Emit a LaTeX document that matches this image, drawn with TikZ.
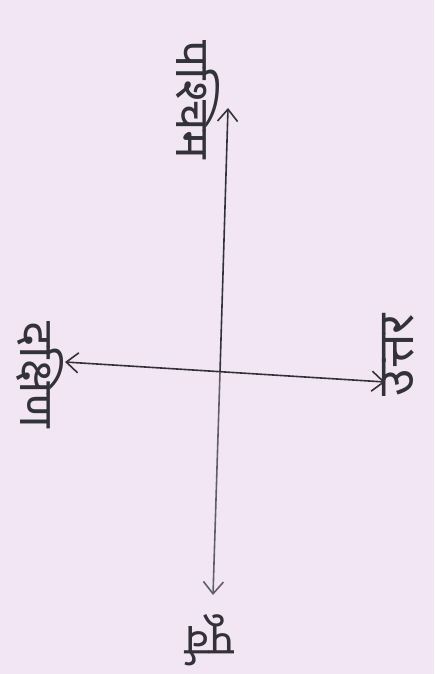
\documentclass[tikz,border=0pt]{standalone}
\usepackage{fontspec}
\newfontfamily\devfont[Script=Devanagari]{Noto Sans}
\usetikzlibrary{arrows.meta}
\definecolor{paper}{RGB}{243,230,244}
\definecolor{ink}{RGB}{50,50,58}
\definecolor{inklight}{RGB}{95,95,105}
\tikzset{
  lbl/.style={font=\devfont\fontsize{48}{50}\selectfont, text=ink, inner sep=0pt},
  axis/.style={line width=1.6pt, draw=ink},
  tipboth/.style={{Straight Barb[length=12pt,width=20pt,line width=1.6pt]}-{Straight Barb[length=12pt,width=20pt,line width=1.6pt]}},
  tipstart/.style={{Straight Barb[length=12pt,width=20pt,line width=1.6pt]}-},
  tipend/.style={-{Straight Barb[length=12pt,width=20pt,line width=1.6pt]}}
}
\begin{document}
\begin{tikzpicture}[x=1pt,y=-1pt]
\fill[paper] (0,0) rectangle (434,674);
\useasboundingbox (0,0) rectangle (434,674);
% end points of the axes
\coordinate (N) at (228,108);
\coordinate (S) at (213,595);
\coordinate (W) at (65,362);
\coordinate (E) at (385,382);
\coordinate (C) at (220,372);
% axes
\draw[axis, tipboth] (W) -- (E);
\draw[axis, tipstart] (N) -- (C);
\draw[axis, draw=inklight, tipend] (C) -- (S);
% labels
\node[lbl, rotate=-90] (west) at (198,100) {पश्चिम};
\node[lbl, rotate=-90] (south) at (40,375) {दक्षिण};
\node[lbl, rotate=90, font=\devfont\fontsize{50}{52}\selectfont] (north) at (398,355) {उत्तर};
\node[lbl, rotate=180, font=\devfont\fontsize{44}{46}\selectfont] (east) at (210,640) {पूर्व};
\end{tikzpicture}
\end{document}
